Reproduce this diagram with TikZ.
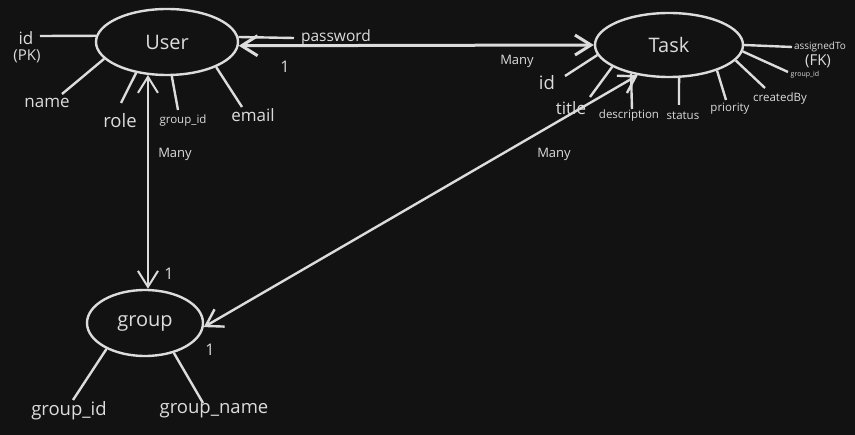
\documentclass[tikz,border=0pt]{standalone}
\usepackage{fontspec}
\setmainfont{Open Sans}
\usepackage[svgnames]{xcolor}
\usepackage{tikz}
\usetikzlibrary{shapes.geometric,arrows.meta}

\definecolor{bgcol}{HTML}{121212}
\definecolor{inkcol}{HTML}{DCDCDC}

\tikzset{
    entity/.style={ellipse, draw=inkcol, line width=2.4pt, text=inkcol, inner sep=0pt,
        font=\fontsize{20}{20}\selectfont},
    attr/.style={text=inkcol, inner sep=0pt, font=\fontsize{17}{17}\selectfont},
    attrbig/.style={attr, font=\fontsize{18.5}{18.5}\selectfont},
    attrsm/.style={attr, font=\fontsize{11.5}{11.5}\selectfont},
    attrxs/.style={attr, font=\fontsize{7}{7}\selectfont},
    card/.style={attr, font=\fontsize{13}{13}\selectfont},
    cardone/.style={attr, font=\fontsize{16}{16}\selectfont},
    spoke/.style={draw=inkcol, line width=2.4pt},
    relation/.style={draw=inkcol, line width=2.4pt,
        {Straight Barb[length=16pt,width=20pt]}-{Straight Barb[length=16pt,width=20pt]}}
}

\begin{document}
\begin{tikzpicture}[x=1pt,y=-1pt]

        \fill[bgcol] (0,0) rectangle (855,435);
        \useasboundingbox (0,0) rectangle (855,435);

        % entities
        \node[entity, minimum width=142pt, minimum height=66pt] (user) at (167,42) {User};
        \node[entity, minimum width=148pt, minimum height=64pt] (task) at (669,45) {Task};
        \node[entity, minimum width=116pt, minimum height=66pt] (group) at (145,323) {group};

        % free ends of the attribute spokes
        \coordinate (Uid) at (40,36);
        \coordinate (Uname) at (62,94);
        \coordinate (Urole) at (121,103);
        \coordinate (Ugid) at (178,110);
        \coordinate (Uemail) at (242,107);
        \coordinate (Upass) at (294,38);

        \coordinate (Tid) at (565,76);
        \coordinate (Ttitle) at (590,97);
        \coordinate (Tdesc) at (632,109);
        \coordinate (Tstatus) at (679,105);
        \coordinate (Tprio) at (726,100);
        \coordinate (Tby) at (765,88);
        \coordinate (Tto) at (792,47);
        \coordinate (Tgid) at (788,72);

        \coordinate (Ggid) at (73,400);
        \coordinate (Gname) at (203,403);

        % User attributes
        \node[attr] (uid) at (26,38) {id};
        \node[attr, font=\fontsize{15}{15}\selectfont] (upk) at (27,56) {(PK)};
        \node[attr] (uname) at (47,103) {name};
        \node[attrbig] (urole) at (120,121) {role};
        \node[attrsm] (ugid) at (183,121) {group\_id};
        \node[attr] (uemail) at (253,115) {email};
        \node[attr, font=\fontsize{15.5}{15.5}\selectfont] (upass) at (336,37) {password};

        \draw[spoke] (user.175) -- (Uid);
        \draw[spoke] (user.195) -- (Uname);
        \draw[spoke] (user.225) -- (Urole);
        \draw[spoke] (user.278) -- (Ugid);
        \draw[spoke] (user.333) -- (Uemail);
        \draw[spoke] (user.4) -- (Upass);

        % Task attributes
        \node[attrbig] (tid) at (547,83) {id};
        \node[attr] (ttitle) at (571,108) {title};
        \node[attrsm] (tdesc) at (629,116) {description};
        \node[attrsm] (tstatus) at (683,116) {status};
        \node[attrsm] (tprio) at (730,109) {priority};
        \node[attrsm] (tby) at (780,99) {createdBy};
        \node[attrsm, font=\fontsize{10}{10}\selectfont] (tto) at (820,47) {assignedTo};
        \node[attr, font=\fontsize{15}{15}\selectfont] (tfk) at (818,61) {(FK)};
        \node[attrxs] (tgid) at (805,75) {group\_id};

        \draw[spoke] (task.188) -- (Tid);
        \draw[spoke] (task.201) -- (Ttitle);
        \draw[spoke] (task.217) -- (Tdesc);
        \draw[spoke] (task.287) -- (Tstatus);
        \draw[spoke] (task.332) -- (Tprio);
        \draw[spoke] (task.347) -- (Tby);
        \draw[spoke] (task.east) -- (Tto);
        \draw[spoke] (task.355) -- (Tgid);

        % group attributes
        \node[attrbig] (ggid) at (69,411) {group\_id};
        \node[attrbig] (gname) at (214,411) {group\_name};

        \draw[spoke] (group.214) -- (Ggid);
        \draw[spoke] (group.314) -- (Gname);

        % relations
        \draw[relation, line width=3pt] (user.357) -- (task.west);
        \draw[relation, line width=2pt] (user.240) -- (user.240 |- group.north);
        \draw[relation] (group.356) -- (task.224);

        \node[cardone] (c1) at (285,67) {1};
        \node[card] (c2) at (517,61) {Many};
        \node[card] (c3) at (175,154) {Many};
        \node[cardone] (c4) at (169,274) {1};
        \node[card] (c5) at (554,154) {Many};
        \node[cardone] (c6) at (210,350) {1};

    \end{tikzpicture}
\end{document}
